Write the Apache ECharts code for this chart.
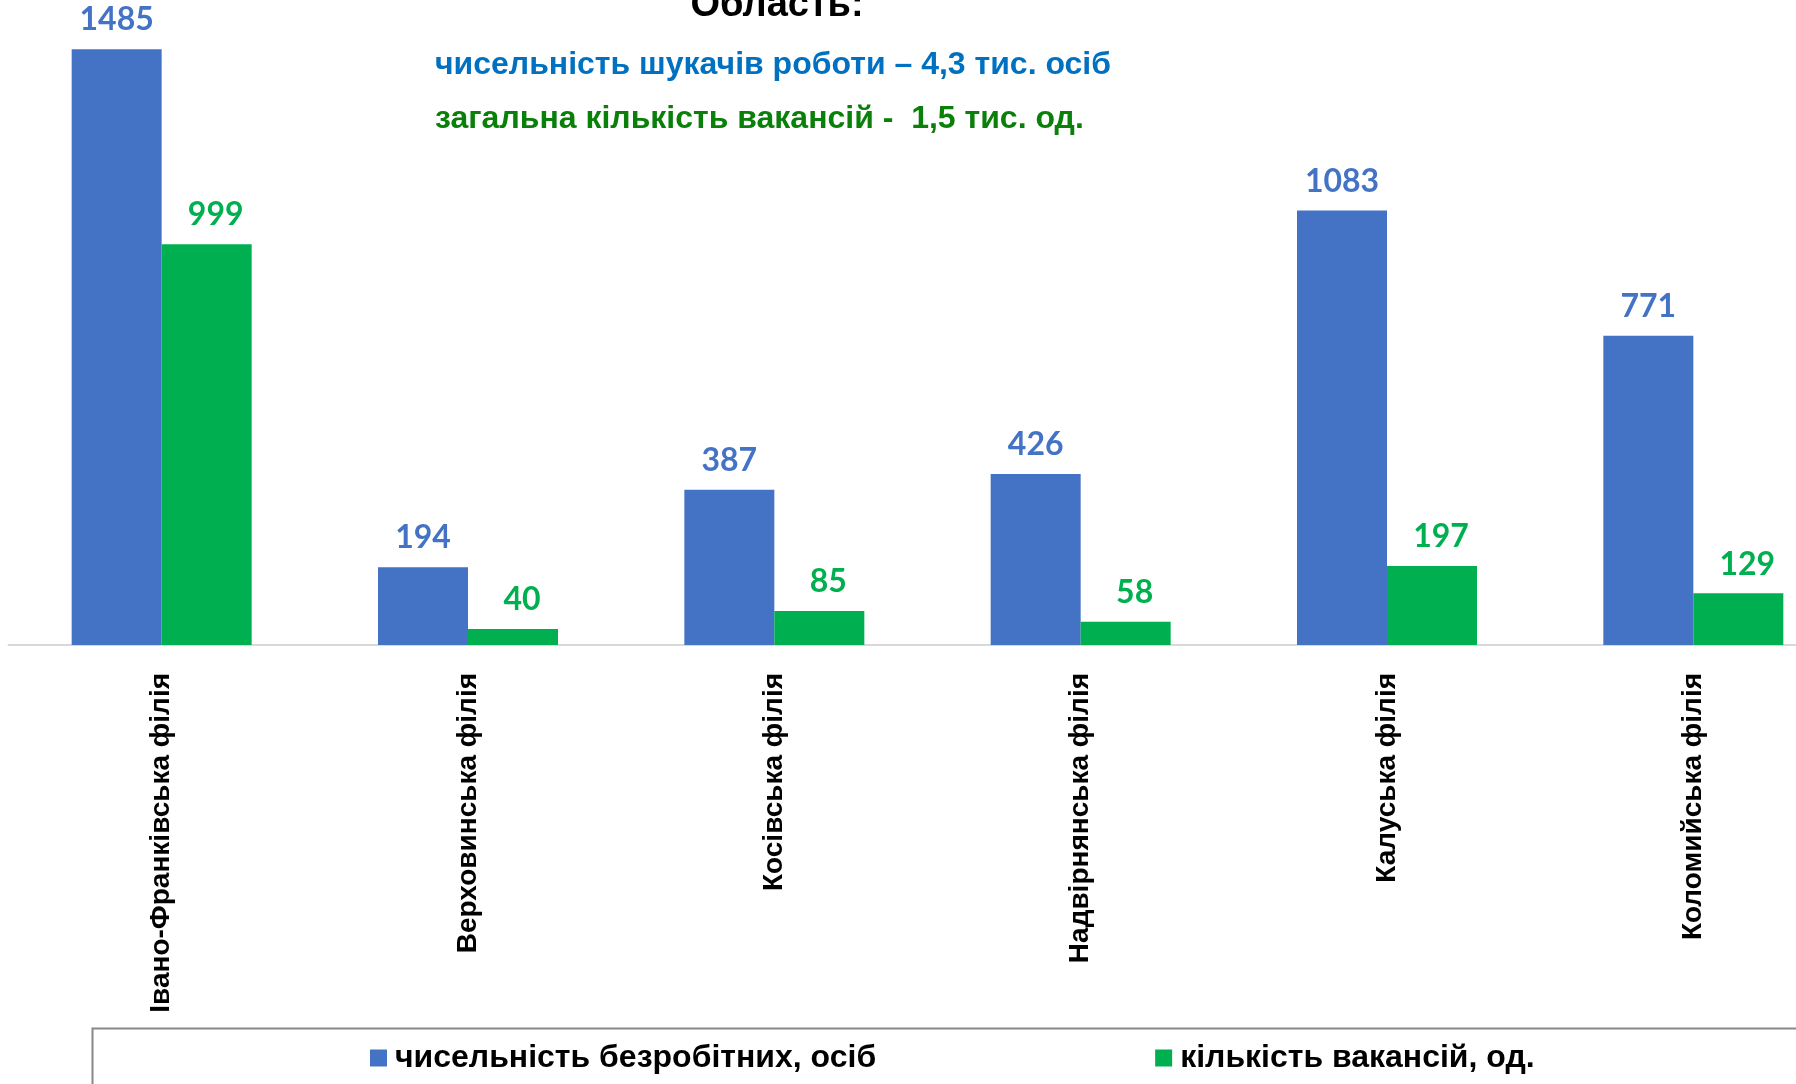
<!DOCTYPE html>
<html>
<head>
<meta charset="utf-8">
<script src="https://cdn.jsdelivr.net/npm/echarts@6/dist/echarts.min.js"></script>
<style>
html,body{margin:0;padding:0;background:#fff;}
#chart{width:1796px;height:1084px;}
</style>
</head>
<body>
<div id="chart"></div>
<script>
const categories = ['Івано-Франківська філія','Верховинська філія','Косівська філія','Надвірнянська філія','Калуська філія','Коломийська філія'];
const unemployed = [1485, 194, 387, 426, 1083, 771];
const vacancies = [999, 40, 85, 58, 197, 129];
const seriesNames = ['чисельність безробітних, осіб', 'кількість вакансій, од.'];
const titleMain = 'Область:';
const titleLine1 = 'чисельність шукачів роботи – 4,3 тис. осіб';
const titleLine2 = 'загальна кількість вакансій -  1,5 тис. од.';

const chart = echarts.init(document.getElementById('chart'));
chart.setOption({
  backgroundColor: '#ffffff',
  animation: false,
  title: [
    {text: titleMain, left: 772, top: -18, textAlign: 'center',
     textStyle: {fontFamily: 'Liberation Sans', fontWeight: 'bold', fontSize: 38, color: '#000000'}},
    {text: titleLine1, left: 430, top: 44,
     textStyle: {fontFamily: 'Liberation Sans', fontWeight: 'bold', fontSize: 32, color: '#0070C0'}},
    {text: titleLine2, left: 430, top: 98,
     textStyle: {fontFamily: 'Liberation Sans', fontWeight: 'bold', fontSize: 32, color: '#0A800A'}}
  ],
  grid: {left: 8.5, width: 1838, top: 3, bottom: 439, containLabel: false, outerBoundsMode: 'none'},
  legend: {
    left: 365, top: 1037,
    itemWidth: 17, itemHeight: 17, itemGap: 279,
    icon: 'rect',
    textStyle: {fontFamily: 'Liberation Sans', fontWeight: 'bold', fontSize: 32, color: '#000000', padding: [0,0,0,3]},
    data: seriesNames
  },
  graphic: [{
    type: 'rect', left: 90, top: 1026, silent: true,
    shape: {width: 1800, height: 100},
    style: {fill: 'none', stroke: '#888888', lineWidth: 2}
  }],
  xAxis: {
    type: 'category', data: categories,
    axisLine: {lineStyle: {color: '#D9D9D9', width: 2}},
    axisTick: {show: false},
    axisLabel: {rotate: 90, margin: 28, interval: 0,
      fontFamily: 'Liberation Sans', fontWeight: 'bold', fontSize: 28, color: '#000000'}
  },
  yAxis: {type: 'value', min: 0, max: 1600, show: false, splitLine: {show: false}},
  series: [
    {name: seriesNames[0], type: 'bar', data: unemployed, barWidth: 90, barGap: '0%',
     itemStyle: {color: '#4472C4'},
     label: {show: true, position: 'top', distance: 13,
       fontFamily: 'Lato', fontWeight: 'bold', fontSize: 32, color: '#4472C4'}},
    {name: seriesNames[1], type: 'bar', data: vacancies, barWidth: 90, barGap: '0%',
     itemStyle: {color: '#00B050'},
     label: {show: true, position: 'top', distance: 13, offset: [9, 0],
       fontFamily: 'Lato', fontWeight: 'bold', fontSize: 32, color: '#00B050'}}
  ]
});
</script>
</body>
</html>
